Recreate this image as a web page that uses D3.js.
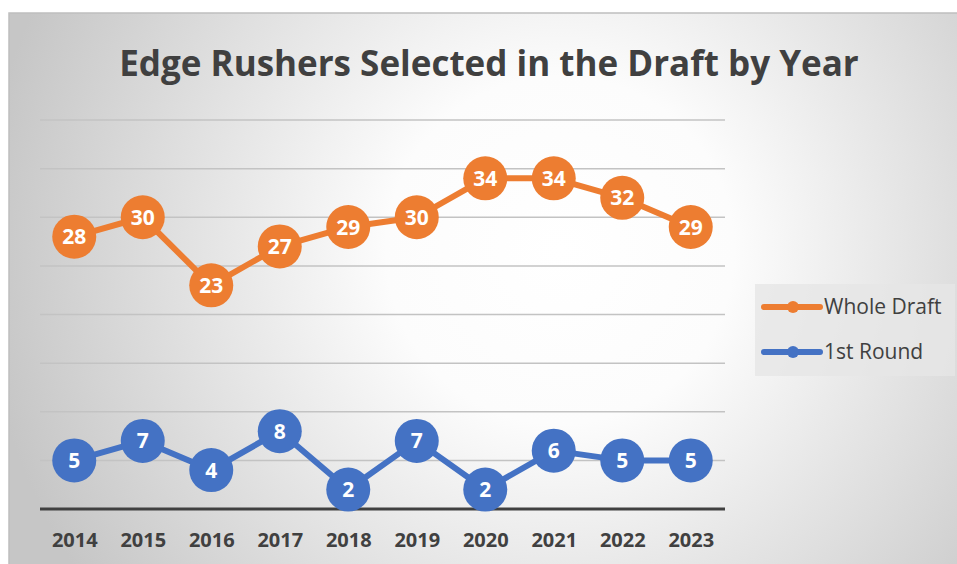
<!DOCTYPE html>
<html>
<head>
<meta charset="utf-8">
<script src="https://cdn.jsdelivr.net/npm/d3@7"></script>
<style>
  body { margin: 0; background: #fff; }
  svg { display: block; }
</style>
</head>
<body>
<script>
// chart data
const years = ['2014', '2015', '2016', '2017', '2018', '2019', '2020', '2021', '2022', '2023']
const wholeDraft = [28, 30, 23, 27, 29, 30, 34, 34, 32, 29]
const firstRound = [5, 7, 4, 8, 2, 7, 2, 6, 5, 5]
const yTicks = [0, 5, 10, 15, 20, 25, 30, 35, 40]

const m = { width: 957, height: 564, left: 40, right: 725, top: 120, bottom: 509 }

const svg = d3.select('body').append('svg')
    .attr('width', m.width)
    .attr('height', m.height)

// background gradient like the excel chart area
const defs = svg.append('defs')
const grad = defs.append('radialGradient')
    .attr('id', 'bg')
    .attr('gradientUnits', 'userSpaceOnUse')
    .attr('cx', 560).attr('cy', 250).attr('r', 580)
grad.append('stop').attr('offset', '0%').attr('stop-color', '#ffffff')
grad.append('stop').attr('offset', '30%').attr('stop-color', '#fcfcfc')
grad.append('stop').attr('offset', '100%').attr('stop-color', '#c6c6c6')

svg.append('rect')
    .attr('x', 9).attr('y', 13)
    .attr('width', m.width).attr('height', m.height)
    .attr('fill', 'url(#bg)')
    .attr('stroke', '#bfbfbf')
    .attr('stroke-width', 1.5)

// scales
const xScale = d3.scalePoint()
    .domain(years)
    .range([m.left, m.right])
    .padding(0.5)

const yScale = d3.scaleLinear()
    .domain([0, 40])
    .range([m.bottom, m.top])

// gridlines
svg.append('g')
    .selectAll('line')
    .data(yTicks.slice(1))
    .join('line')
    .attr('x1', m.left).attr('x2', m.right)
    .attr('y1', d => yScale(d)).attr('y2', d => yScale(d))
    .attr('stroke', '#c3c3c3')
    .attr('stroke-width', 1.5)

// x axis
const xAxis = d3.axisBottom(xScale).tickSize(0).tickPadding(24)
const gx = svg.append('g')
    .attr('transform', `translate(0,${m.bottom})`)
    .call(xAxis)
gx.select('.domain')
    .attr('d', `M${m.left},0H${m.right}`)
    .attr('stroke', '#404040')
    .attr('stroke-width', 3)
gx.selectAll('text')
    .attr('font-family', 'Open Sans, sans-serif')
    .attr('font-weight', 'bold')
    .attr('font-size', 20)
    .attr('fill', '#404040')

// series
const series = [
    { name: 'Whole Draft', values: wholeDraft, color: '#ed7d31' },
    { name: '1st Round', values: firstRound, color: '#4472c4' }
]

const line = d3.line()
    .x((d, i) => xScale(years[i]))
    .y(d => yScale(d))

series.forEach(s => {
    const g = svg.append('g')
    g.append('path')
        .datum(s.values)
        .attr('d', line)
        .attr('fill', 'none')
        .attr('stroke', s.color)
        .attr('stroke-width', 6)
        .attr('stroke-linejoin', 'round')

    g.selectAll('circle')
        .data(s.values)
        .join('circle')
        .attr('cx', (d, i) => xScale(years[i]))
        .attr('cy', d => yScale(d))
        .attr('r', 22)
        .attr('fill', s.color)

    g.selectAll('text')
        .data(s.values)
        .join('text')
        .attr('x', (d, i) => xScale(years[i]))
        .attr('y', d => yScale(d))
        .attr('dy', '0.36em')
        .attr('text-anchor', 'middle')
        .attr('font-family', 'Open Sans, sans-serif')
        .attr('font-weight', 'bold')
        .attr('font-size', 21)
        .attr('fill', '#ffffff')
        .text(d => d)
})

// title
svg.append('text')
    .attr('x', 489)
    .attr('y', 76)
    .attr('text-anchor', 'middle')
    .attr('font-family', 'Open Sans, sans-serif')
    .attr('font-weight', 'bold')
    .attr('font-size', 35)
    .attr('fill', '#404040')
    .text('Edge Rushers Selected in the Draft by Year')

// legend
const legend = svg.append('g')
legend.append('rect')
    .attr('x', 755).attr('y', 284)
    .attr('width', 200).attr('height', 92)
    .attr('fill', '#e6e6e6')
    .attr('opacity', 0.8)

const item = legend.selectAll('g')
    .data(series)
    .join('g')
    .attr('transform', (d, i) => `translate(764,${307 + i * 45})`)
item.append('line')
    .attr('x1', 0).attr('x2', 56)
    .attr('stroke', d => d.color)
    .attr('stroke-width', 6)
    .attr('stroke-linecap', 'round')
item.append('circle')
    .attr('cx', 29).attr('r', 6)
    .attr('fill', d => d.color)
item.append('text')
    .attr('x', 60)
    .attr('dy', '0.35em')
    .attr('font-family', 'Open Sans, sans-serif')
    .attr('font-size', 21)
    .attr('fill', '#404040')
    .text(d => d.name)
</script>
</body>
</html>
